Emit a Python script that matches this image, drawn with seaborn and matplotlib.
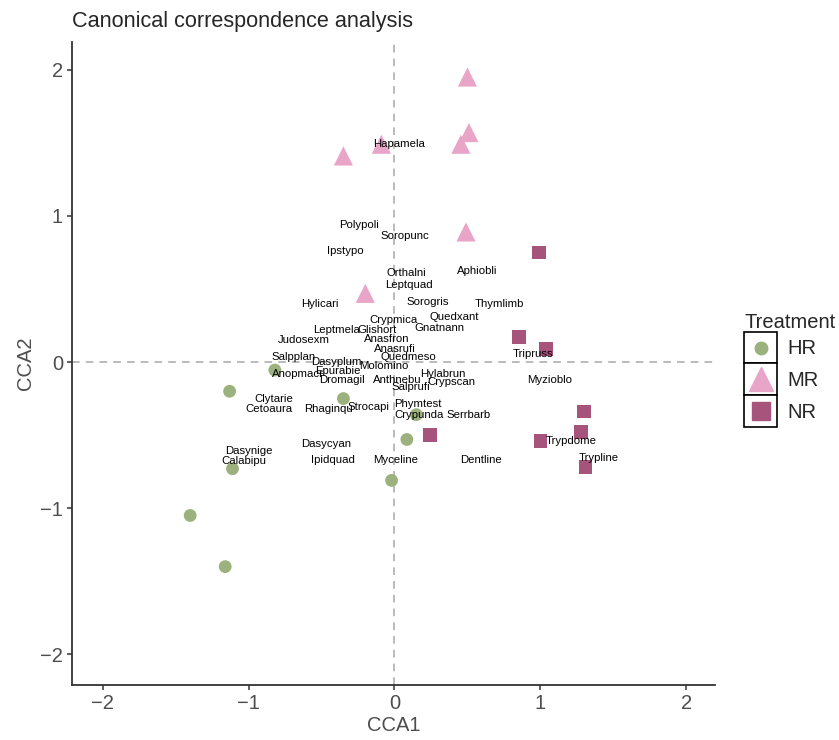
import numpy as np
import pandas as pd
import seaborn as sns
import matplotlib.pyplot as plt
from matplotlib.legend_handler import HandlerBase
from matplotlib.patches import Rectangle
from matplotlib.lines import Line2D

# ---- site scores ----
hr_x = [-0.82, -1.13, -0.35, 0.15, 0.085, -0.02, -1.11, -1.40, -1.16]
hr_y = [-0.055, -0.20, -0.25, -0.36, -0.53, -0.81, -0.73, -1.05, -1.40]

mr_x = [0.50, 0.51, 0.455, -0.35, -0.09, 0.49, -0.20]
mr_y = [1.95, 1.57, 1.49, 1.41, 1.49, 0.89, 0.47]

nr_x = [0.99, 0.855, 1.04, 1.30, 1.28, 1.00, 1.31, 0.245]
nr_y = [0.75, 0.17, 0.09, -0.34, -0.48, -0.54, -0.72, -0.50]

# ---- species scores ----
species = ["Hapamela", "Polypoli", "Soropunc", "Ipstypo", "Orthalni", "Leptquad",
           "Aphiobli", "Hylicari", "Sorogris", "Thymlimb", "Crypmica", "Quedxant",
           "Gnatnann", "Leptmela", "Glishort", "Judosexm", "Anasfron", "Anasrufi",
           "Quedmeso", "Salpplan", "Dasyplum", "Epurabie", "Molomino", "Anopmacr",
           "Dromagil", "Anthnebu", "Hylabrun", "Crypscan", "Salprufi", "Clytarie",
           "Cetoaura", "Rhaginqu", "Strocapi", "Phymtest", "Crypunda", "Serrbarb",
           "Dasynige", "Calabipu", "Dasycyan", "Ipidquad", "Myceline", "Dentline",
           "Tripruss", "Myzioblo", "Trypdome", "Trypline"]
sp_x = [0.03, -0.245, 0.07, -0.34, 0.08, 0.10,
        0.57, -0.51, 0.225, 0.72, -0.01, 0.41,
        0.31, -0.40, -0.12, -0.62, -0.05, 0.0,
        0.095, -0.69, -0.40, -0.385, -0.07, -0.66,
        -0.36, 0.02, 0.33, 0.39, 0.11, -0.83,
        -0.86, -0.45, -0.175, 0.16, 0.17, 0.51,
        -1.00, -1.035, -0.465, -0.425, 0.01, 0.59,
        0.95, 1.06, 1.21, 1.40]
sp_y = [1.49, 0.94, 0.86, 0.76, 0.61, 0.525,
        0.625, 0.40, 0.41, 0.40, 0.29, 0.31,
        0.23, 0.22, 0.22, 0.15, 0.16, 0.09,
        0.034, 0.036, 0.0, -0.06, -0.03, -0.08,
        -0.12, -0.12, -0.08, -0.14, -0.17, -0.25,
        -0.32, -0.32, -0.31, -0.29, -0.36, -0.36,
        -0.61, -0.68, -0.56, -0.67, -0.67, -0.67,
        0.055, -0.12, -0.54, -0.66]

treatments = ["HR", "MR", "NR"]
colors = {"HR": "#9CB27E", "MR": "#E9A5C8", "NR": "#A6547B"}
markers = {"HR": "o", "MR": "^", "NR": "s"}
sizes = {"HR": 85, "MR": 190, "NR": 95}

sites = pd.DataFrame({
    "CCA1": hr_x + mr_x + nr_x,
    "CCA2": hr_y + mr_y + nr_y,
    "Treatment": ["HR"] * len(hr_x) + ["MR"] * len(mr_x) + ["NR"] * len(nr_x),
})

sns.set_style("ticks")
plt.rcParams["font.family"] = ["Liberation Sans", "DejaVu Sans"]

fig = plt.figure(figsize=(8.39, 7.40), dpi=100)
ax = fig.add_axes([0.0858, 0.0743, 0.767, 0.869])

ax.axhline(0, color="#A8A8A8", lw=1.1, ls=(0, (5, 4)), zorder=0)
ax.axvline(0, color="#A8A8A8", lw=1.1, ls=(0, (5, 4)), zorder=0)

sns.scatterplot(data=sites, x="CCA1", y="CCA2", hue="Treatment", style="Treatment",
                size="Treatment", palette=colors, markers=markers, sizes=sizes,
                linewidth=0, legend=False, ax=ax, zorder=2)

for name, x, y in zip(species, sp_x, sp_y):
    ax.text(x, y, name, fontsize=8.2, ha="center", va="center", color="black", zorder=3)

ax.set_xlim(-2.21, 2.20)
ax.set_ylim(-2.21, 2.19)
ax.set_xticks([-2, -1, 0, 1, 2])
ax.set_yticks([-2, -1, 0, 1, 2])
ax.tick_params(labelsize=14.5, colors="#333333", length=3.5, width=1.1,
               labelcolor="#4D4D4D", pad=3)
for side in ["left", "bottom"]:
    ax.spines[side].set_linewidth(1.3)
    ax.spines[side].set_color("#333333")
sns.despine(ax=ax)
ax.set_xlabel("CCA1", fontsize=14.5, color="#4D4D4D", labelpad=2)
ax.set_ylabel("CCA2", fontsize=14.5, color="#4D4D4D", labelpad=4)
ax.set_title("Canonical correspondence analysis", loc="left", fontsize=15.6, pad=11)


class BoxHandler(HandlerBase):
    def create_artists(self, legend, orig_handle, xdescent, ydescent, width, height, fontsize, trans):
        box = Rectangle((-xdescent, -ydescent), width, height, facecolor="white",
                        edgecolor="black", lw=1.2, transform=trans)
        dot = Line2D([width / 2 - xdescent], [height / 2 - ydescent],
                     marker=orig_handle.get_marker(), color=orig_handle.get_color(),
                     markersize=orig_handle.get_markersize(), ls="", transform=trans)
        return [box, dot]


leg_sizes = {"HR": 9, "MR": 17, "NR": 13}
handles = [Line2D([], [], marker=markers[t], color=colors[t], ls="", markersize=leg_sizes[t])
           for t in treatments]
ax.legend(handles, treatments, title="Treatment", handler_map={Line2D: BoxHandler()},
          loc="center left", bbox_to_anchor=(1.045, 0.49), frameon=False, fontsize=14.5,
          title_fontsize=14.5, handlelength=1.64, handleheight=2.06, labelspacing=0,
          handletextpad=0.5, borderpad=0, borderaxespad=0, alignment="left")

fig.savefig("out.png", dpi=100)
